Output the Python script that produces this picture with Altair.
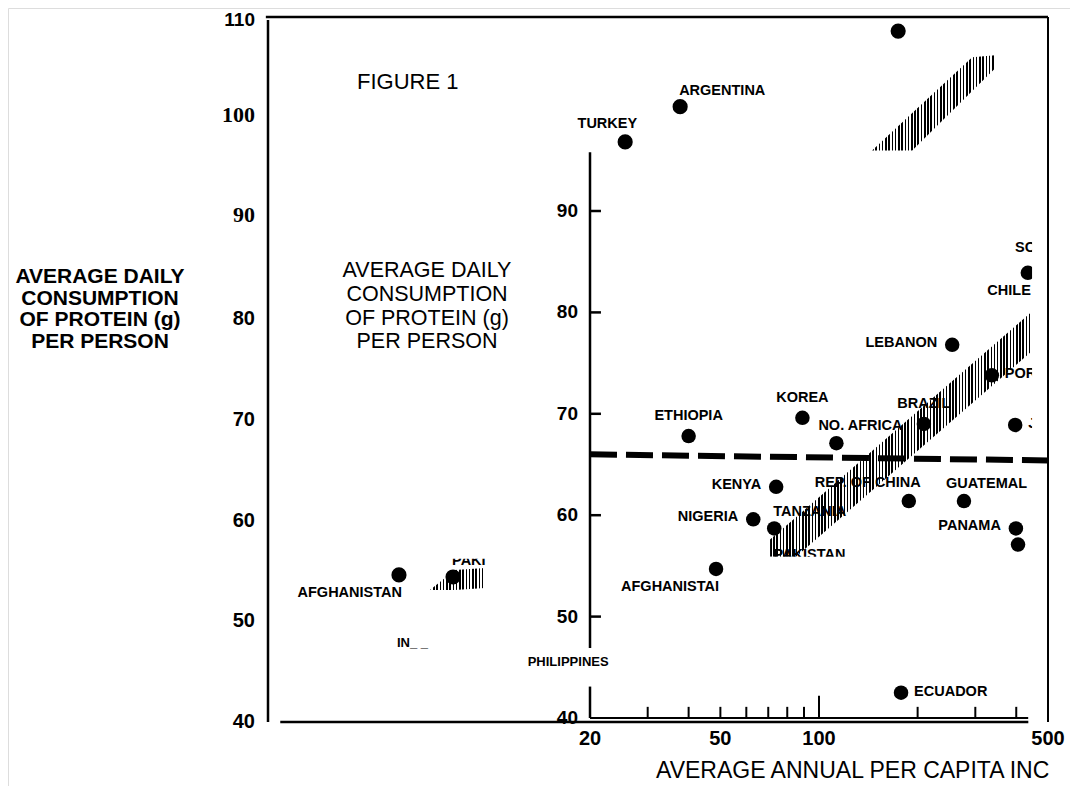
import altair as alt
import pandas as pd

# ---------------- data ----------------
# inner (main) plot: income, US$ (log) vs protein, g/day
in_name = ["ETHIOPIA", "KOREA", "NO. AFRICA", "BRAZIL", "LEBANON", "POR", "J", "KENYA",
           "REP. OF CHINA", "GUATEMAL", "TANZANIA", "NIGERIA", "PANAMA", "", "",
           "AFGHANISTAI", "CHILE", "ECUADOR"]
in_income = [40, 89, 113, 209, 255, 337, 397, 74, 188, 277, 73, 63, 399, 405, 208, 48.5, 434, 178]
in_protein = [67.8, 69.6, 67.1, 69.0, 76.8, 73.8, 68.9, 62.8, 61.4, 61.4, 58.7, 59.6, 58.7,
              57.1, 55.1, 54.7, 83.9, 42.5]
in_place = ["above", "above", "above_right", "above", "left", "right", "right", "left",
            "above_left", "above_right", "above_start", "left", "left", "none", "none",
            "below_left", "below_left", "right"]

# text-only fragments of the inner plot
in_txt = ["PAKISTAN", "SO"]
in_txt_income = [93.5, 396.6]
in_txt_protein = [56.1, 86.35]
in_txt_align = ["center", "left"]

# outer frame points
out_name = ["TURKEY", "ARGENTINA", "", "AFGHANISTAN", "PAKI"]
out_income = [246, 362, 1675, 50.2, 73.4]
out_protein = [97.6, 101.1, 108.6, 54.6, 54.4]
out_place = ["above_left", "above_start", "none", "below_left", "above_start"]

out_txt = ["PHILIPPINES", "IN_ _"]
out_txt_income = [164.8, 49.5]
out_txt_protein = [45.95, 47.8]
out_txt_align = ["center", "left"]

# hatched bands (income, upper, lower)
band_in_income = [70.9, 85.1, 447]
band_in_upper = [57.6, 59.8, 80.1]
band_in_lower = [55.9, 55.9, 76.2]

band_top_income = [1395, 1849, 2818, 3313]
band_top_upper = [96.75, 100.46, 106.0, 106.2]
band_top_lower = [96.75, 96.75, 102.66, 104.9]

band_pak_income = [62.4, 74.4, 91.9]
band_pak_upper = [53.1, 55.1, 55.3]
band_pak_lower = [53.1, 53.1, 53.3]

# dashed reference line
dash_income = [20, 500]
dash_protein = [66.0, 65.4]

# axes
in_y_ticks = [50, 60, 70, 80, 90]
in_y_labels = [40, 50, 60, 70, 80, 90]
in_x_minor = [30, 40, 50, 60, 70, 80, 90, 200, 300, 400]
in_x_major = [100]
in_x_labels = [20, 50, 100, 500]
out_y_top = [110]
out_y_sans = [80, 70, 60, 50, 40]
out_y_serif = [100, 90]

# ---------------- styling ----------------
FONT = "Liberation Sans, Arial, Helvetica, sans-serif"
SERIF = "Liberation Serif, Times New Roman, serif"

XS_IN = alt.Scale(type="log", domain=[20, 500], range=[582, 1040], nice=False)
YS_IN = alt.Scale(type="linear", domain=[40, 90], range=[710, 203], nice=False, zero=False)
XS_OUT = alt.Scale(type="log", domain=[20, 4800], range=[260, 1040], nice=False)
YS_OUT = alt.Scale(type="linear", domain=[40, 110], range=[714, 9], nice=False, zero=False)

ONE = pd.DataFrame({"k": [0]})


def ex(scale, field=None, datum=None):
    if datum is not None:
        return alt.XDatum(datum, type="quantitative", scale=scale, axis=None)
    return alt.X(f"{field}:Q", scale=scale, axis=None)


def ey(scale, field=None, datum=None):
    if datum is not None:
        return alt.YDatum(datum, type="quantitative", scale=scale, axis=None)
    return alt.Y(f"{field}:Q", scale=scale, axis=None)


def hatch(n, duty=0.48):
    stops = []
    for i in range(n):
        a, m, b = i / n, (i + duty) / n, (i + 1) / n
        stops += [alt.GradientStop(color="black", offset=a),
                  alt.GradientStop(color="black", offset=m),
                  alt.GradientStop(color="white", offset=m),
                  alt.GradientStop(color="white", offset=b)]
    return alt.LinearGradient(gradient="linear", stops=stops, x1=0, x2=1, y1=0, y2=0)


def band(xs, ys, inc, up, lo, n):
    df = pd.DataFrame({"inc": inc, "up": up, "lo": lo})
    return alt.Chart(df).mark_area(color=hatch(n), opacity=1, interpolate="linear").encode(
        x=ex(xs, "inc"), y=ey(ys, "up"), y2=alt.Y2("lo:Q"))


def rule(xs, ys, x, x2, y, y2, w):
    return alt.Chart(ONE).mark_rule(color="black", strokeWidth=w, strokeCap="butt").encode(
        x=ex(xs, datum=x), x2=alt.X2Datum(x2), y=ey(ys, datum=y), y2=alt.Y2Datum(y2))


def mask(xs, ys, x, x2, y, y2):
    return alt.Chart(ONE).mark_rect(color="white").encode(
        x=ex(xs, datum=x), x2=alt.X2Datum(x2), y=ey(ys, datum=y), y2=alt.Y2Datum(y2))


PLACE = {
    "above": dict(align="center", dx=0, dy=-20),
    "above_right": dict(align="left", dx=-18, dy=-17),
    "above_start": dict(align="left", dx=-1, dy=-16),
    "above_left": dict(align="right", dx=12, dy=-18),
    "left": dict(align="right", dx=-15, dy=-2),
    "right": dict(align="left", dx=13, dy=-1),
    "below_left": dict(align="right", dx=3, dy=18),
}


def points(xs, ys, names, inc, prot, place, size):
    df = pd.DataFrame({"name": names, "inc": inc, "prot": prot, "place": place})
    layers = [alt.Chart(df).mark_circle(size=size, color="black", opacity=1).encode(
        x=ex(xs, "inc"), y=ey(ys, "prot"))]
    for key, p in PLACE.items():
        if key not in place:
            continue
        layers.append(
            alt.Chart(df).transform_filter(alt.datum.place == key).mark_text(
                font=FONT, fontWeight="bold", fontSize=14.5, baseline="middle", color="black", **p
            ).encode(x=ex(xs, "inc"), y=ey(ys, "prot"), text="name:N"))
    return layers


def free_text(xs, ys, txt, inc, prot, aligns, size):
    df = pd.DataFrame({"t": txt, "inc": inc, "prot": prot, "al": aligns})
    out = []
    for al in sorted(set(aligns)):
        out.append(alt.Chart(df).transform_filter(alt.datum.al == al).mark_text(
            font=FONT, fontWeight="bold", fontSize=size, align=al, baseline="middle", color="black"
        ).encode(x=ex(xs, "inc"), y=ey(ys, "prot"), text="t:N"))
    return out


def ylabels(values, font, size, dy=0):
    return alt.Chart(pd.DataFrame({"v": values})).mark_text(
        font=font, fontWeight="bold", fontSize=size, align="right", baseline="middle", dx=-13, dy=dy
    ).encode(x=ex(XS_OUT, datum=20), y=ey(YS_OUT, "v"), text="v:Q")


# ---------------- outer frame ----------------
outer_layers = [
    band(XS_OUT, YS_OUT, band_top_income, band_top_upper, band_top_lower, 38),
    band(XS_OUT, YS_OUT, band_pak_income, band_pak_upper, band_pak_lower, 17),
    rule(XS_OUT, YS_OUT, 19.7, 4800, 110, 110, 2.5),
    rule(XS_OUT, YS_OUT, 20, 20, 40, 109.7, 2.5),
    rule(XS_OUT, YS_OUT, 4800, 4800, 40, 110, 2),
    rule(XS_OUT, YS_OUT, 21.8, 4180, 40, 40, 2.5),
]
outer_layers += points(XS_OUT, YS_OUT, out_name, out_income, out_protein, out_place, 230)
outer_layers.append(mask(XS_OUT, YS_OUT, 69.4, 95.2, 56.2, 57.3))
outer_layers += free_text(XS_OUT, YS_OUT, out_txt, out_txt_income, out_txt_protein, out_txt_align, 13)
outer_layers += [
    ylabels(out_y_top, FONT, 19, dy=3),
    ylabels(out_y_sans, FONT, 20),
    ylabels(out_y_serif, SERIF, 22, dy=-3),
]
outer_layers.append(
    alt.Chart(ONE).mark_text(
        text="AVERAGE DAILY\nCONSUMPTION\n OF  PROTEIN  (g)\nPER PERSON", lineBreak="\n",
        lineHeight=21.5, font=FONT, fontWeight="bold", fontSize=21, align="center",
        baseline="middle", dx=-168, dy=-42
    ).encode(x=ex(XS_OUT, datum=20), y=ey(YS_OUT, datum=80)))
outer_layers.append(
    alt.Chart(ONE).mark_text(
        text="FIGURE 1", font=FONT, fontSize=22, align="left", baseline="middle", dx=89, dy=65
    ).encode(x=ex(XS_OUT, datum=20), y=ey(YS_OUT, datum=110)))
outer = alt.layer(*outer_layers)

# ---------------- inner plot ----------------
dash_df = pd.DataFrame({"inc": dash_income, "prot": dash_protein})
inner_layers = [band(XS_IN, YS_IN, band_in_income, band_in_upper, band_in_lower, 82)]
inner_layers += points(XS_IN, YS_IN, in_name, in_income, in_protein, in_place, 210)
inner_layers += free_text(XS_IN, YS_IN, in_txt, in_txt_income, in_txt_protein, in_txt_align, 14.5)
# cut edges of the pasted-in panel
inner_layers += [
    mask(XS_IN, YS_IN, 447, 493, 55.9, 96),
    mask(XS_IN, YS_IN, 57.4, 447, 53.6, 55.9),
]
inner_layers.append(
    alt.Chart(dash_df).mark_line(color="black", strokeWidth=6, strokeDash=[27, 9], strokeCap="butt").encode(
        x=ex(XS_IN, "inc"), y=ey(YS_IN, "prot")))
inner_layers += [
    rule(XS_IN, YS_IN, 20, 20, 40, 43.1, 2.5),
    rule(XS_IN, YS_IN, 20, 20, 46.9, 95.8, 2.5),
    rule(XS_IN, YS_IN, 20, 435, 40, 40, 2),
]
inner_layers.append(
    alt.Chart(pd.DataFrame({"v": in_y_ticks})).mark_rule(color="black", strokeWidth=2.5).encode(
        x=ex(XS_IN, datum=20), x2=alt.X2Datum(21.6), y=ey(YS_IN, "v")))
inner_layers.append(
    alt.Chart(pd.DataFrame({"v": in_x_minor})).mark_rule(color="black", strokeWidth=2).encode(
        x=ex(XS_IN, "v"), y=ey(YS_IN, datum=40), y2=alt.Y2Datum(41.1)))
inner_layers.append(
    alt.Chart(pd.DataFrame({"v": in_x_major})).mark_rule(color="black", strokeWidth=2).encode(
        x=ex(XS_IN, "v"), y=ey(YS_IN, datum=40), y2=alt.Y2Datum(42.2)))
inner_layers.append(
    alt.Chart(pd.DataFrame({"v": in_y_labels})).mark_text(
        font=FONT, fontWeight="bold", fontSize=19, align="right", baseline="middle", dx=-12
    ).encode(x=ex(XS_IN, datum=20), y=ey(YS_IN, "v"), text="v:Q"))
inner_layers.append(
    alt.Chart(pd.DataFrame({"v": in_x_labels})).mark_text(
        font=FONT, fontWeight="bold", fontSize=20, align="center", baseline="middle", dy=21
    ).encode(x=ex(XS_IN, "v"), y=ey(YS_IN, datum=40), text="v:Q"))
inner_layers.append(
    alt.Chart(ONE).mark_text(
        text="AVERAGE DAILY\nCONSUMPTION\nOF  PROTEIN (g)\nPER PERSON", lineBreak="\n",
        lineHeight=23.7, font=FONT, fontSize=21.5, align="center", baseline="middle", dx=-163, dy=-41
    ).encode(x=ex(XS_IN, datum=20), y=ey(YS_IN, datum=80)))
inner_layers.append(
    alt.Chart(ONE).mark_text(
        text="AVERAGE ANNUAL PER CAPITA INC", font=FONT, fontSize=23, align="left",
        baseline="middle", dx=66, dy=53
    ).encode(x=ex(XS_IN, datum=20), y=ey(YS_IN, datum=40)))
inner = alt.layer(*inner_layers)

chart = alt.layer(outer, inner).resolve_scale(x="independent", y="independent").properties(
    width=1062, height=778, autosize="none", padding=0
).configure_view(stroke=None).configure(background="white")

chart.save("out.html", embed_options={"renderer": "svg", "actions": False})
